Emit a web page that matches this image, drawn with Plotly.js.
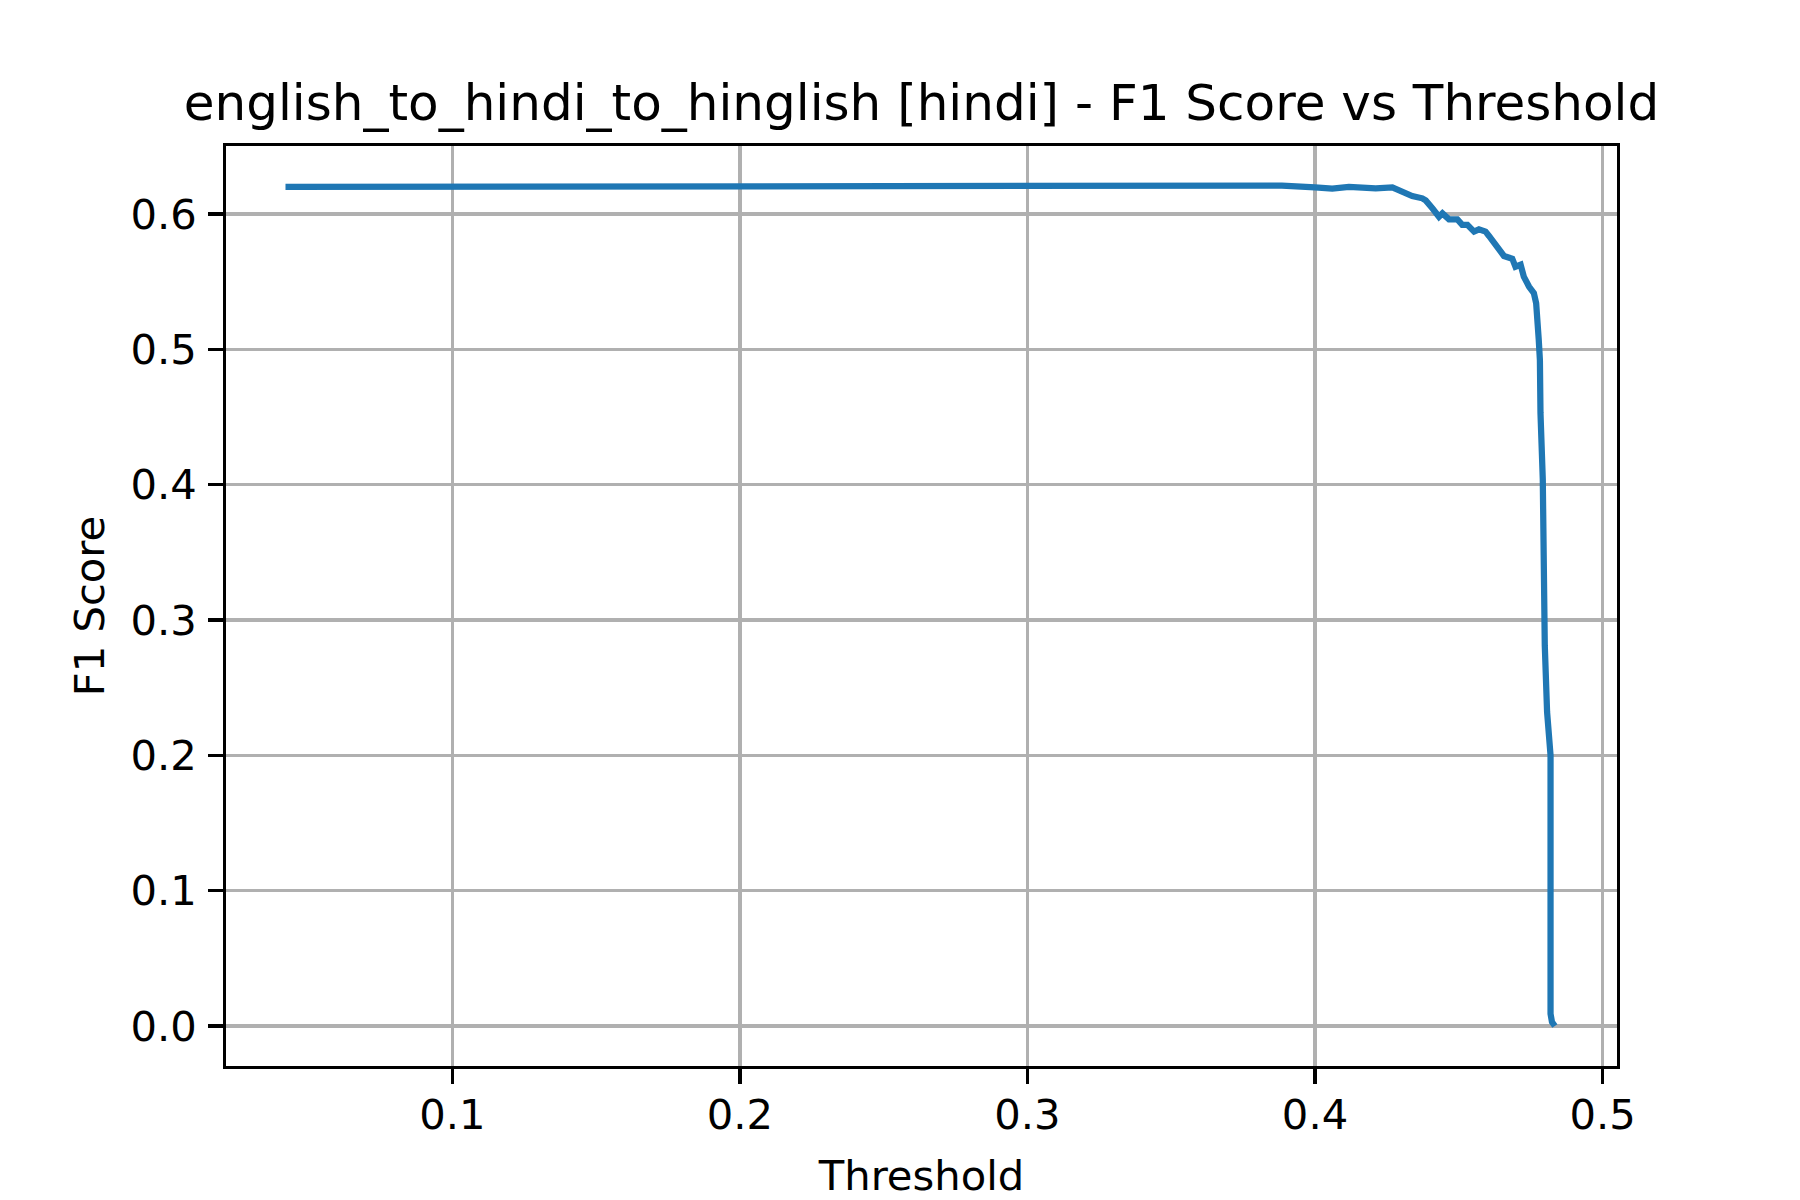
<!DOCTYPE html>
<html>
<head>
<meta charset="utf-8">
<script src="https://cdn.plot.ly/plotly-3.0.1.min.js"></script>
<style>html,body{margin:0;padding:0;background:#fff;}#chart{width:1800px;height:1200px;}</style>
</head>
<body>
<div id="chart"></div>
<script>
const thresholds = [0.042, 0.10, 0.20, 0.30, 0.35, 0.377, 0.3885, 0.400, 0.406, 0.4118, 0.4211, 0.4269, 0.4303, 0.4338, 0.4373, 0.4385, 0.4408, 0.4431, 0.4443, 0.4466, 0.4495, 0.4512, 0.453, 0.4553, 0.457, 0.4593, 0.4605, 0.4628, 0.4657, 0.4686, 0.4697, 0.4715, 0.4726, 0.4744, 0.4761, 0.4769, 0.4775, 0.4778, 0.4782, 0.4784, 0.4792, 0.4796, 0.4799, 0.4807, 0.4813, 0.4819, 0.4819, 0.4824, 0.4834];
const f1Scores = [0.620, 0.620, 0.620, 0.620, 0.6203, 0.6206, 0.621, 0.6197, 0.6187, 0.620, 0.619, 0.6197, 0.616, 0.6133, 0.6116, 0.610, 0.6042, 0.598, 0.6005, 0.596, 0.596, 0.592, 0.592, 0.587, 0.5887, 0.587, 0.5838, 0.577, 0.569, 0.567, 0.561, 0.5625, 0.5537, 0.5464, 0.5415, 0.534, 0.522, 0.507, 0.492, 0.453, 0.404, 0.306, 0.281, 0.232, 0.207, 0.200, 0.009, 0.003, 0.0];
const xTicks = [0.1, 0.2, 0.3, 0.4, 0.5];
const yTicks = [0.0, 0.1, 0.2, 0.3, 0.4, 0.5, 0.6];
const titleText = "english_to_hindi_to_hinglish [hindi] - F1 Score vs Threshold";
const xLabel = "Threshold";
const yLabel = "F1 Score";

const font = "DejaVu Sans";
const trace = {
  x: thresholds, y: f1Scores, type: "scatter", mode: "lines",
  line: {color: "#1f77b4", width: 6.25}, hoverinfo: "skip"
};
const axisCommon = {
  showline: true, mirror: true, linecolor: "#000", linewidth: 3.3,
  ticks: "outside", ticklen: 14.6, tickwidth: 3.3, tickcolor: "#000",
  showgrid: true, gridcolor: "#b0b0b0", gridwidth: 3.3,
  zeroline: false, tickfont: {family: font, size: 41.7, color: "#000"},
  tickmode: "array", tickformat: ".1f"
};
const layout = {
  width: 1800, height: 1200,
  paper_bgcolor: "#fff", plot_bgcolor: "#fff",
  margin: {l: 226, r: 183, t: 146, b: 134},
  showlegend: false,
  title: {text: titleText, font: {family: font, size: 50, color: "#000"},
          x: 0.5, xref: "paper", xanchor: "center", y: 0.915, yref: "container", yanchor: "middle"},
  xaxis: Object.assign({}, axisCommon, {
    range: [0.02131, 0.50501], tickvals: xTicks,
    ticklabelstandoff: -5,
    title: {text: xLabel, font: {family: font, size: 41.7, color: "#000"}, standoff: 26}
  }),
  yaxis: Object.assign({}, axisCommon, {
    range: [-0.02956, 0.65025], tickvals: yTicks,
    ticklabelstandoff: 3,
    title: {text: yLabel, font: {family: font, size: 41.7, color: "#000"}, standoff: 14}
  })
};
Plotly.newPlot("chart", [trace], layout, {displayModeBar: false, staticPlot: true});
</script>
</body>
</html>
